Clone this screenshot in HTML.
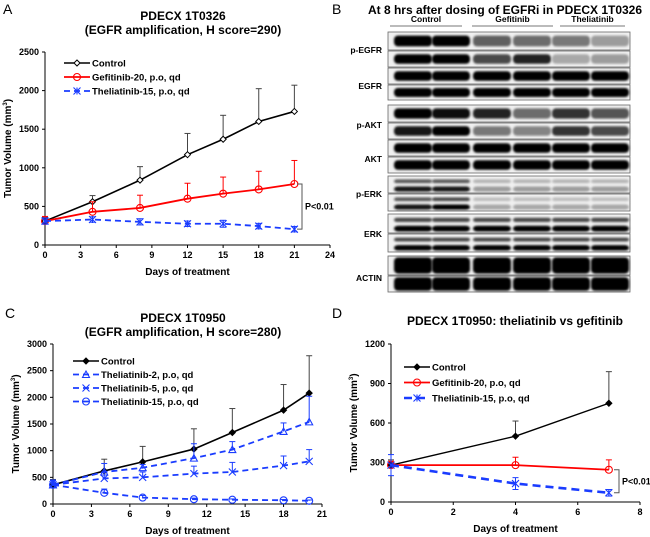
<!DOCTYPE html>
<html><head><meta charset="utf-8"><style>
html,body{margin:0;padding:0;background:#fff}
svg{display:block;font-family:"Liberation Sans",Arial,sans-serif}
</style></head><body>
<svg id="fig" width="650" height="537" viewBox="0 0 650 537">
<defs>
<filter id="blur" x="-10%" y="-50%" width="120%" height="200%"><feGaussianBlur stdDeviation="1"/></filter>
</defs>
<g id="panelA"></g>
<g id="panelB"></g>
<g id="panelC"></g>
<g id="panelD"></g>
</svg>
<script>
// ---------- Panel A data ----------
const daysA = [0,4,8,12,15,18,21];
const ctrlA = [310,560,840,1170,1370,1600,1730];
const ctrlErrA = [50,80,175,275,310,425,340];
const gefA = [310,430,480,600,665,720,790];
const gefErrA = [60,130,165,200,215,235,305];
const theA = [310,330,300,275,275,245,205];
const theErrA = [40,35,40,35,45,35,35];
const yTicksA = [0,500,1000,1500,2000,2500];
const xTicksA = [0,3,6,9,12,15,18,21,24];
// ---------- Panel C data ----------
const daysC = [0,4,7,11,14,18,20];
const ctrlC = [360,620,790,1030,1340,1760,2080];
const ctrlErrC = [100,220,290,380,450,480,700];
const th2C = [360,600,680,860,1020,1360,1540];
const th2ErrC = [80,160,60,270,150,160,480];
const th5C = [360,480,500,570,600,720,800];
const th5ErrC = [90,120,100,140,180,180,220];
const th15C = [360,210,120,90,80,70,60];
const th15ErrC = [90,70,40,20,15,15,15];
const yTicksC = [0,500,1000,1500,2000,2500,3000];
const xTicksC = [0,3,6,9,12,15,18,21];
// ---------- Panel D data ----------
const daysD = [0,4,7];
const ctrlD = [280,500,750];
const ctrlErrD = [40,115,240];
const gefD = [280,280,245];
const gefErrD = [30,60,75];
const theD = [280,140,70];
const theErrD = [80,45,25];
const yTicksD = [0,300,600,900,1200];
const xTicksD = [0,2,4,6,8];
// ---------- Panel B data ----------
const blotLabels = ['p-EGFR','EGFR','p-AKT','AKT','p-ERK','ERK','ACTIN'];
const blotGroups = ['Control','Gefitinib','Theliatinib'];
const blotIntensity = [
 [1,1,0.6,0.55,0.5,0.35],
 [1,1,0.7,0.85,0.3,0.35],
 [1,1,1,1,1,1],
 [1,1,1,1,1,1],
 [1,0.95,0.85,0.55,0.8,0.65],
 [0.9,1,0.5,0.45,0.8,0.7],
 [1,1,1,1,1,1],
 [1,1,1,1,1,1],
 [0.9,0.9,0.35,0.35,0.35,0.35],
 [0.9,1,0.3,0.3,0.3,0.3],
 [1,1,1,1,1,1],
 [1,1,1,1,1,1],
 [1,1,1,1,1,1],
 [1,1,1,1,1,1]
];

const NS='http://www.w3.org/2000/svg';
function mk(parent,tag,attrs,text){const e=document.createElementNS(NS,tag);for(const k in attrs)e.setAttribute(k,attrs[k]);if(text!==undefined)e.textContent=text;parent.appendChild(e);return e;}

function marker(g,type,x,y,color){
  let m;
  if(type==='diamond'){m=mk(g,'path',{d:`M${x} ${y-3}L${x+3} ${y}L${x} ${y+3}L${x-3} ${y}Z`,fill:'#fff',stroke:color,'stroke-width':1});}
  else if(type==='fdiamond'){m=mk(g,'path',{d:`M${x} ${y-3}L${x+3} ${y}L${x} ${y+3}L${x-3} ${y}Z`,fill:color,stroke:color,'stroke-width':1});}
  else if(type==='circle'){m=mk(g,'circle',{cx:x,cy:y,r:3.5,fill:'none',stroke:color,'stroke-width':1.1});}
  else if(type==='star'){m=mk(g,'path',{d:`M${x-3.5} ${y-3.5}L${x+3.5} ${y+3.5}M${x-3.5} ${y+3.5}L${x+3.5} ${y-3.5}M${x} ${y-3.5}L${x} ${y+3.5}`,fill:'none',stroke:color,'stroke-width':1.1});}
  else if(type==='triangle'){m=mk(g,'path',{d:`M${x} ${y-3.5}L${x+3.5} ${y+3}L${x-3.5} ${y+3}Z`,fill:'none',stroke:color,'stroke-width':1.1});}
  else if(type==='x'){m=mk(g,'path',{d:`M${x-3.5} ${y-3.5}L${x+3.5} ${y+3.5}M${x-3.5} ${y+3.5}L${x+3.5} ${y-3.5}`,fill:'none',stroke:color,'stroke-width':1.1});}
  
  
}

function chart(g,cfg){
  const X=v=>cfg.x0+(v-cfg.xmin)/(cfg.xmax-cfg.xmin)*(cfg.x1-cfg.x0);
  const Y=v=>cfg.y0-(v-cfg.ymin)/(cfg.ymax-cfg.ymin)*(cfg.y0-cfg.y1);
  const ya=mk(g,'line',{x1:cfg.x0,y1:cfg.y0,x2:cfg.x0,y2:cfg.y1,stroke:'#000','stroke-width':1});
  
  const xa=mk(g,'line',{x1:cfg.x0,y1:cfg.y0,x2:cfg.x1,y2:cfg.y0,stroke:'#000','stroke-width':1});
  
  cfg.yt.forEach(t=>{const y=Y(t);mk(g,'line',{x1:cfg.x0-3,y1:y,x2:cfg.x0,y2:y,stroke:'#000'});
    const l=mk(g,'text',{x:cfg.x0-6,y:y+3,'font-size':9,'font-weight':'bold','text-anchor':'end'},t);
    });
  cfg.xt.forEach(t=>{const x=X(t);mk(g,'line',{x1:x,y1:cfg.y0,x2:x,y2:cfg.y0+3,stroke:'#000'});
    const l=mk(g,'text',{x:x,y:cfg.y0+13,'font-size':9,'font-weight':'bold','text-anchor':'middle'},t);
    });
  const xt=mk(g,'text',{x:(cfg.x0+cfg.x1)/2,y:cfg.y0+30,'font-size':10,'font-weight':'bold','text-anchor':'middle'},'Days  of treatment');
  
  const ytl=mk(g,'text',{x:0,y:0,'font-size':10,'font-weight':'bold','text-anchor':'middle',transform:`translate(${cfg.x0-34},${(cfg.y0+cfg.y1)/2}) rotate(-90)`});
  ytl.innerHTML='Tumor Volume (mm<tspan dy="-4" font-size="6">3</tspan><tspan dy="4">)</tspan>';
  
  cfg.series.forEach((s,si)=>{
    const sg=mk(g,'g',{});
    
    s.vals.forEach((v,i)=>{const x=X(cfg.days[i]);
      mk(sg,'line',{x1:x,y1:Y(v),x2:x,y2:Y(v+s.err[i]),stroke:s.errColor||s.color,'stroke-width':1});
      mk(sg,'line',{x1:x-3,y1:Y(v+s.err[i]),x2:x+3,y2:Y(v+s.err[i]),stroke:s.errColor||s.color,'stroke-width':1});
      if(s.both){mk(sg,'line',{x1:x,y1:Y(v),x2:x,y2:Y(Math.max(0,v-s.err[i])),stroke:s.color});
        mk(sg,'line',{x1:x-3,y1:Y(Math.max(0,v-s.err[i])),x2:x+3,y2:Y(Math.max(0,v-s.err[i])),stroke:s.color});}
    });
    const pts=s.vals.map((v,i)=>X(cfg.days[i])+','+Y(v)).join(' ');
    const pl=mk(sg,'polyline',{points:pts,fill:'none',stroke:s.color,'stroke-width':s.w||1.8,'stroke-dasharray':s.dash||'none'});
    
    s.vals.forEach((v,i)=>marker(sg,s.marker,X(cfg.days[i]),Y(v),s.color));
    const ly=cfg.legY+si*cfg.legDy;
    const lg=mk(g,'g',{});
    
    mk(lg,'line',{x1:cfg.legX,y1:ly,x2:cfg.legX+26,y2:ly,stroke:s.color,'stroke-width':s.w||1.8,'stroke-dasharray':s.dash||'none'});
    marker(lg,s.marker,cfg.legX+13,ly,s.color);
    mk(lg,'text',{x:cfg.legX+28,y:ly+3.5,'font-size':9.5,'font-weight':'bold'},s.label);
  });
  if(cfg.p){const xb=cfg.p.x,ya1=Y(cfg.p.a),ya2=Y(cfg.p.b);
    const br=mk(g,'path',{d:`M${xb-5} ${ya1}H${xb}V${ya2}H${xb-5}`,fill:'none',stroke:'#555','stroke-width':1});
    
    const pt=mk(g,'text',{x:xb+3,y:(ya1+ya2)/2+3,'font-size':9,'font-weight':'bold'},'P<0.01');
    }
  cfg.title.forEach((t,i)=>{const tt=mk(g,'text',{x:cfg.tx,y:cfg.ty+i*14,'font-size':12,'font-weight':'bold','text-anchor':'middle'},t);
    });
  const pl=mk(g,'text',{x:cfg.letter[1],y:cfg.letter[2],'font-size':14},cfg.letter[0]);
  
}

chart(document.getElementById('panelA'),{x0:45,x1:330,xmin:0,xmax:24,y0:245,y1:52,ymin:0,ymax:2500,
  yt:yTicksA,xt:xTicksA,days:daysA,legX:64,legY:63,legDy:14,title:['PDECX 1T0326','(EGFR amplification,  H score=290)'],tx:183,ty:20,letter:['A',3,14],
  p:{x:302,a:790,b:205},
  series:[
   {key:'control',label:'Control',vals:ctrlA,err:ctrlErrA,color:'#000',marker:'diamond',errColor:'#444',w:1.6},
   {key:'gefitinib',label:'Gefitinib-20, p.o, qd',vals:gefA,err:gefErrA,color:'#f00',marker:'circle'},
   {key:'theliatinib',label:'Theliatinib-15, p.o, qd',vals:theA,err:theErrA,color:'#1a3cff',marker:'star',dash:'6,4',both:true}]});

chart(document.getElementById('panelC'),{x0:53,x1:322,xmin:0,xmax:21,y0:504,y1:344,ymin:0,ymax:3000,
  yt:yTicksC,xt:xTicksC,days:daysC,legX:73,legY:361,legDy:13.5,title:['PDECX 1T0950','(EGFR amplification,  H score=280)'],tx:183,ty:322,letter:['C',5,318],
  series:[
   {key:'control',label:'Control',vals:ctrlC,err:ctrlErrC,color:'#000',marker:'fdiamond',errColor:'#444',w:1.6},
   {key:'theliatinib-2',label:'Theliatinib-2, p.o, qd',vals:th2C,err:th2ErrC,color:'#1a3cff',marker:'triangle',dash:'6,4'},
   {key:'theliatinib-5',label:'Theliatinib-5, p.o, qd',vals:th5C,err:th5ErrC,color:'#1a3cff',marker:'x',dash:'6,4'},
   {key:'theliatinib-15',label:'Theliatinib-15, p.o, qd',vals:th15C,err:th15ErrC,color:'#1a3cff',marker:'circle',dash:'6,4'}]});

chart(document.getElementById('panelD'),{x0:391,x1:640,xmin:0,xmax:8,y0:502,y1:344,ymin:0,ymax:1200,
  yt:yTicksD,xt:xTicksD,days:daysD,legX:404,legY:367,legDy:15.5,title:['PDECX 1T0950: theliatinib vs gefitinib'],tx:515,ty:325,letter:['D',332,318],
  p:{x:619,a:245,b:70},
  series:[
   {key:'control',label:'Control',vals:ctrlD,err:ctrlErrD,color:'#000',marker:'fdiamond',errColor:'#444',w:1.4},
   {key:'gefitinib',label:'Gefitinib-20, p.o, qd',vals:gefD,err:gefErrD,color:'#f00',marker:'circle'},
   {key:'theliatinib',label:'Theliatinib-15, p.o, qd',vals:theD,err:theErrD,color:'#1a3cff',marker:'star',dash:'8,5',w:2.6,both:true}]});

// ---------- Panel B blot ----------
(function(){
  const g=document.getElementById('panelB');
  const b=mk(g,'text',{x:332,y:14,'font-size':14},'B');
  
  const t=mk(g,'text',{x:505,y:14,'font-size':12,'font-weight':'bold','text-anchor':'middle'},'At 8 hrs after dosing of EGFRi in PDECX 1T0326');
  
  const gx=[[390,462],[472,553],[560,625]];
  blotGroups.forEach((n,i)=>{const c=(gx[i][0]+gx[i][1])/2;
    const l=mk(g,'text',{x:c,y:22,'font-size':8.5,'font-weight':'bold','text-anchor':'middle'},n);
    
    mk(g,'line',{x1:gx[i][0],y1:26,x2:gx[i][1],y2:26,stroke:'#777','stroke-width':1});});
  const strips=[[32,50],[51,67],[68,84],[85,100],[105,122],[123,139],[140,156],[157,173],[176,193],[194,211],[214,233],[234,252],[256,275],[276,292]];
  const lanes=[413,451,492,532,571,610];
  strips.forEach((s,ri)=>{
    const sg=mk(g,'g',{});
    
    mk(sg,'rect',{x:388,y:s[0],width:242,height:s[1]-s[0],fill:'#f0f0f0',stroke:'#666','stroke-width':0.8});
    const h=s[1]-s[0];
    lanes.forEach((lx,li)=>{const v=blotIntensity[ri][li];const c=Math.round(240-v*240);
      const col=`rgb(${c},${c},${c})`;
      const isErk=ri>=8&&ri<=11;
      const bh=ri>=12?h*0.85:(isErk?h*0.3:h*0.6);
      const by=isErk?s[0]+h*0.62:s[0]+(h-bh)/2;
      const band=mk(sg,'rect',{x:lx-19,y:by,width:38,height:bh,rx:4,fill:col,filter:'url(#blur)'});
      
      if(isErk){mk(sg,'rect',{x:lx-19,y:s[0]+h*0.2,width:38,height:h*0.22,rx:3,fill:col,opacity:0.7,filter:'url(#blur)'});}
    });
  });
  const ly={'p-EGFR':53,'EGFR':89,'p-AKT':128,'AKT':162,'p-ERK':197,'ERK':237,'ACTIN':281};
  blotLabels.forEach(n=>{const l=mk(g,'text',{x:382,y:ly[n],'font-size':8.5,'font-weight':'bold','text-anchor':'end'},n);
    });
})();
</script>
</body></html>
